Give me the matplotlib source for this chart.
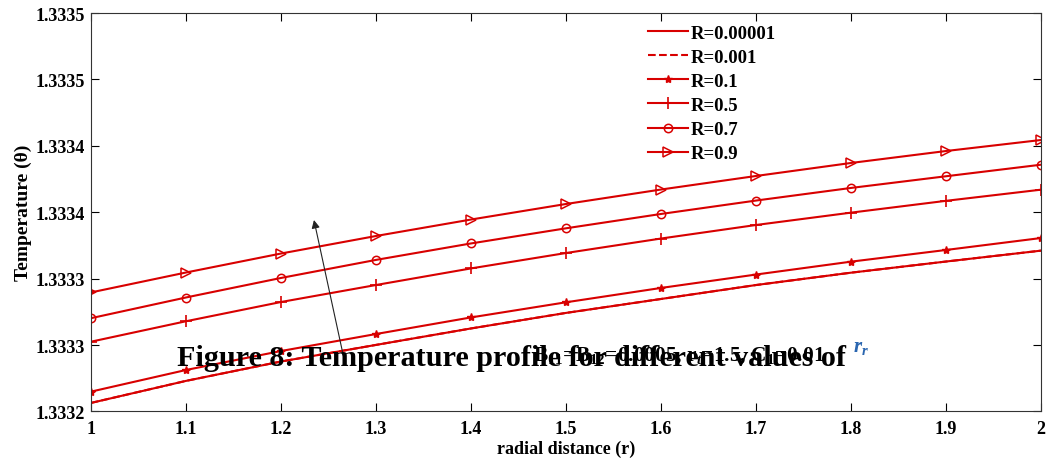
import matplotlib
matplotlib.use("Agg")
import matplotlib.pyplot as plt

plt.rcParams['font.family'] = ['Liberation Serif', 'DejaVu Serif']
plt.rcParams['font.weight'] = 'bold'
plt.rcParams['mathtext.fontset'] = 'custom'
plt.rcParams['mathtext.rm'] = 'Liberation Serif:bold'
plt.rcParams['mathtext.it'] = 'Liberation Serif:italic:bold'

# radial distance
r = [1.0, 1.1, 1.2, 1.3, 1.4, 1.5, 1.6, 1.7, 1.8, 1.9, 2.0]

# temperature for each R
T_R00001 = [1.3332064, 1.3332230, 1.3332376, 1.3332501, 1.3332625, 1.3332742,
            1.3332847, 1.3332952, 1.3333045, 1.3333129, 1.3333211]
T_R0001 = [1.3332064, 1.3332230, 1.3332376, 1.3332501, 1.3332625, 1.3332742,
           1.3332847, 1.3332952, 1.3333045, 1.3333129, 1.3333211]
T_R01 = [1.3332149, 1.3332312, 1.3332455, 1.3332583, 1.3332708, 1.3332822,
         1.3332930, 1.3333031, 1.3333128, 1.3333216, 1.3333306]
T_R05 = [1.3332525, 1.3332679, 1.3332824, 1.3332952, 1.3333077, 1.3333193,
         1.3333302, 1.3333404, 1.3333497, 1.3333586, 1.3333670]
T_R07 = [1.3332702, 1.3332858, 1.3333005, 1.3333141, 1.3333265, 1.3333379,
         1.3333487, 1.3333588, 1.3333683, 1.3333771, 1.3333858]
T_R09 = [1.3332896, 1.3333046, 1.3333189, 1.3333321, 1.3333445, 1.3333562,
         1.3333671, 1.3333773, 1.3333871, 1.3333961, 1.3334044]

labels = ['R=0.00001', 'R=0.001', 'R=0.1', 'R=0.5', 'R=0.7', 'R=0.9']

xticks = [1.0, 1.1, 1.2, 1.3, 1.4, 1.5, 1.6, 1.7, 1.8, 1.9, 2.0]
xtick_labels = ['1', '1.1', '1.2', '1.3', '1.4', '1.5', '1.6', '1.7', '1.8', '1.9', '2']
yticks = [1.33320, 1.33325, 1.33330, 1.33335, 1.33340, 1.33345, 1.33350]
ytick_labels = ['1.3332', '1.3333', '1.3333', '1.3334', '1.3334', '1.3335', '1.3335']

red = '#d80000'

fig = plt.figure(figsize=(10.51, 4.64), dpi=100)
ax = fig.add_axes([0.0863, 0.111, 0.9042, 0.8588])

ax.plot(r, T_R00001, '-', color=red, lw=1.5, label=labels[0])
ax.plot(r, T_R0001, '--', color=red, lw=1.5, label=labels[1])
ax.plot(r, T_R01, '-', color=red, lw=1.5, marker='*', ms=6, label=labels[2])
ax.plot(r, T_R05, '-', color=red, lw=1.5, marker='+', ms=8, mew=1.2, label=labels[3])
ax.plot(r, T_R07, '-', color=red, lw=1.5, marker='o', ms=6, mfc='none', mew=1.1, label=labels[4])
ax.plot(r, T_R09, '-', color=red, lw=1.5, marker='>', ms=7, mfc='none', mew=1.1, label=labels[5])

ax.set_xlim(1, 2)
ax.set_ylim(1.3332, 1.3335)
ax.set_xticks(xticks)
ax.set_xticklabels(xtick_labels)
ax.set_yticks(yticks)
ax.set_yticklabels(ytick_labels)
ax.tick_params(direction='in', top=True, right=True, length=6, labelsize=13, width=0.8)
ax.tick_params(axis='x', pad=6)
ax.tick_params(axis='y', pad=4)
for s in ax.spines.values():
    s.set_linewidth(0.8)
    s.set_color('#333333')

ax.set_xlabel('radial distance (r)', fontsize=13, fontweight='bold', labelpad=2)
ax.set_ylabel('Temperature (\u03b8)', fontsize=14, fontweight='bold', labelpad=3)

leg = ax.legend(loc='upper left', bbox_to_anchor=(0.586, 0.9706), frameon=False,
                fontsize=13.5, handlelength=2.13, handletextpad=0.16,
                labelspacing=0.37, borderpad=0, borderaxespad=0)

# arrow showing increasing R
ax.annotate('', xy=(1.2343, 1.3333462), xytext=(1.2666, 1.3332395),
            arrowprops=dict(arrowstyle='-|>', color='#222222', lw=0.8,
                            mutation_scale=12))

# overlapping caption texts
fig.text(177 / 1051, 1 - 366 / 464, 'Figure 8: Temperature profile for different values of',
         fontsize=21.7, fontweight='bold', va='baseline', ha='left')
fig.text(533 / 1051, 1 - 361 / 464,
         'B$_{11}$=B$_{12}$=0.0005, r$_t$=1.5, C$_1$=0.01',
         fontsize=15.4, fontweight='bold', va='baseline', ha='left')
fig.text(853 / 1051, 1 - 352 / 464, '$r_r$', fontsize=15, color='#2a66b0',
         va='baseline', ha='left')

fig.savefig('out.png', dpi=100)
